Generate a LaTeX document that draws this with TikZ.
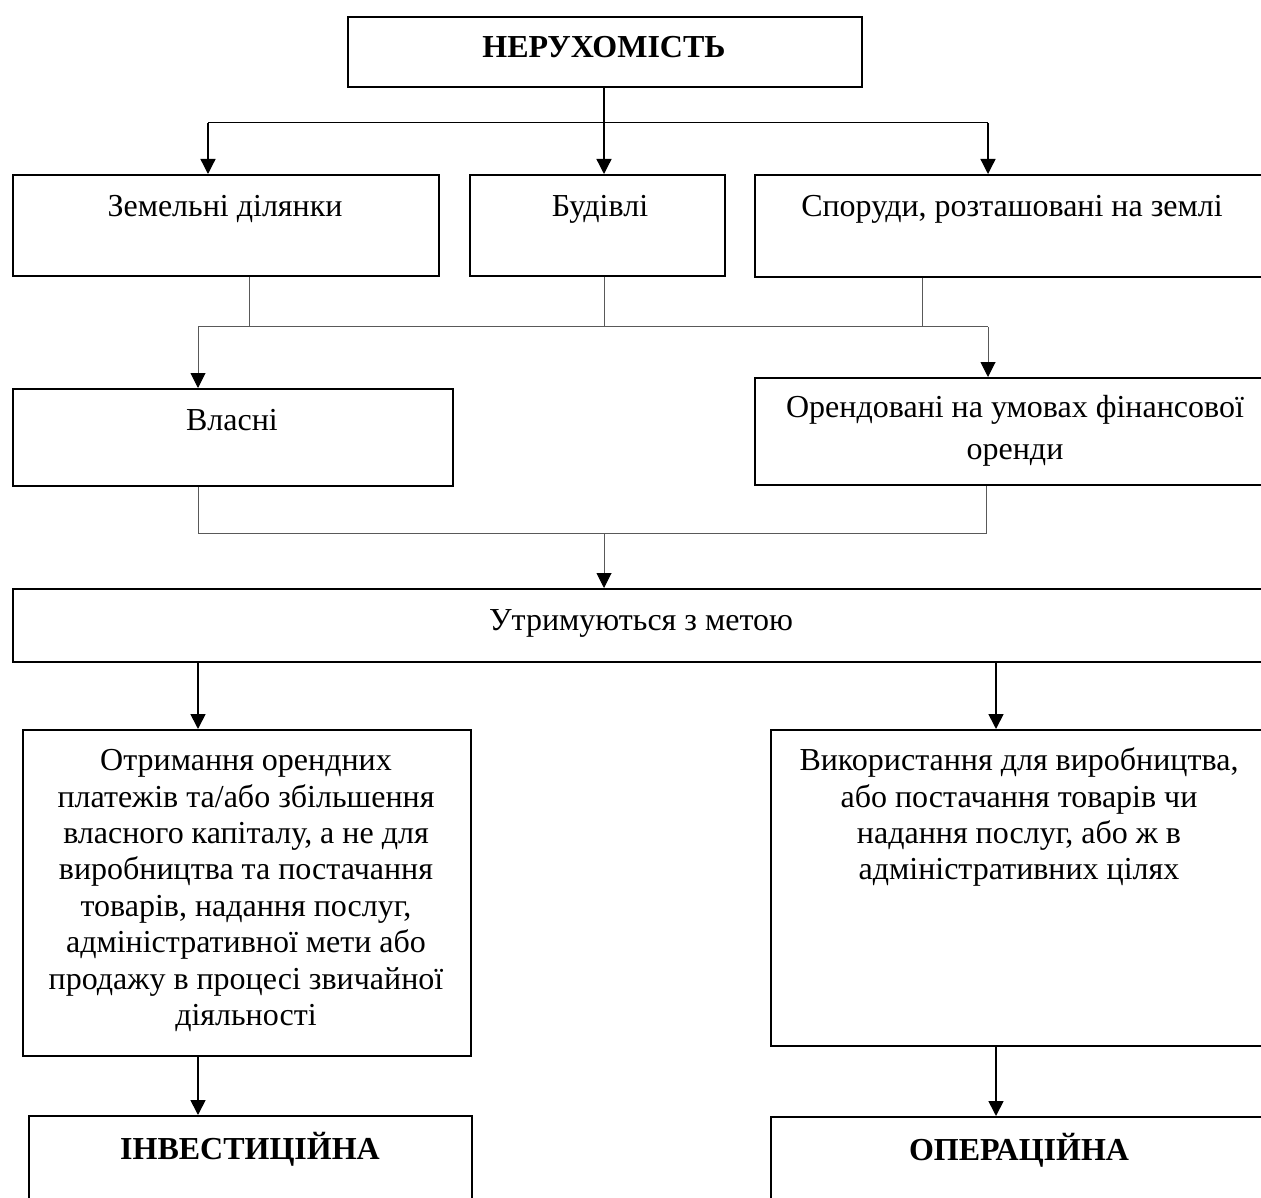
\documentclass[tikz,border=0pt]{standalone}
\usepackage{fontspec}
\setmainfont{Liberation Serif}
\usetikzlibrary{arrows.meta}
\begin{document}
\begin{tikzpicture}[x=1pt,y=-1pt,
  box/.style={draw=black,line width=1.6pt,inner sep=0pt,anchor=north west,rectangle},
  lbl/.style={anchor=north,align=center,inner sep=0pt,font=\fontsize{32}{36.4}\selectfont},
  arr/.style={-{Triangle[width=15pt,length=15pt,color=black]}},
  conntop/.style={draw=black,line width=1.3pt},
  connthin/.style={draw=black,line width=1pt},
  conngray/.style={draw=black!65,line width=1pt},
  connheavy/.style={draw=black,line width=1.7pt}]
\clip (0,0) rectangle (1261,1198);
% boxes
\node[box,minimum width=514pt,minimum height=70pt] (top) at (347,16) {};
\node[box,minimum width=426pt,minimum height=101pt] (land) at (12,174) {};
\node[box,minimum width=255pt,minimum height=101pt] (bud) at (469,174) {};
\node[box,minimum width=516pt,minimum height=102pt] (spor) at (754,174) {};
\node[box,minimum width=440pt,minimum height=97pt] (own) at (12,388) {};
\node[box,minimum width=516pt,minimum height=107pt] (fin) at (754,377) {};
\node[box,minimum width=1258pt,minimum height=73pt] (hold) at (12,588) {};
\node[box,minimum width=448pt,minimum height=326pt] (inv) at (22,729) {};
\node[box,minimum width=498pt,minimum height=316pt] (oper) at (770,729) {};
\node[box,minimum width=443pt,minimum height=130pt] (invb) at (28,1115) {};
\node[box,minimum width=498pt,minimum height=130pt] (operb) at (770,1116) {};
% labels
\node[lbl,font=\fontsize{32}{36}\selectfont\bfseries] (topT) at (604,32) {\strut НЕРУХОМІСТЬ};
\node[lbl] (landT) at (225,191) {\strut Земельні ділянки};
\node[lbl] (budT) at (600,191) {\strut Будівлі};
\node[lbl] (sporT) at (1012,191) {\strut Споруди, розташовані на землі};
\node[lbl] (ownT) at (232,405) {\strut Власні};
\node[lbl,font=\fontsize{32}{42}\selectfont] (finT) at (1015,388) {\strut Орендовані на умовах фінансової\\оренди};
\node[lbl] (holdT) at (641,605) {\strut Утримуються з метою};
\node[lbl] (invT) at (246,745) {\strut Отримання орендних\\платежів та/або збільшення\\власного капіталу, а не для\\виробництва та постачання\\товарів, надання послуг,\\адміністративної мети або\\продажу в процесі звичайної\\діяльності};
\node[lbl] (operT) at (1019,745) {\strut Використання для виробництва,\\або постачання товарів чи\\надання послуг, або ж в\\адміністративних цілях};
\node[lbl,font=\fontsize{32}{36}\selectfont\bfseries] (invbT) at (250,1132) {\strut ІНВЕСТИЦІЙНА};
\node[lbl,font=\fontsize{32}{36}\selectfont\bfseries] (operbT) at (1019,1133) {\strut ОПЕРАЦІЙНА};
% junction coordinates
\coordinate (h1L) at (208,123);
\coordinate (h1R) at (988,123);
\coordinate (j1) at (249,327);
\coordinate (j2) at (604,327);
\coordinate (j3) at (922,327);
\coordinate (h2L) at (198,327);
\coordinate (h2R) at (988,327);
\coordinate (k1) at (198,533);
\coordinate (k2) at (986,533);
\coordinate (k3) at (604,533);
\coordinate (p1) at (198,661);
\coordinate (p2) at (996,661);
\coordinate (q1) at (198,1055);
\coordinate (q2) at (996,1045);
% top connectors
\draw[conntop,arr] (top.south -| j2) -- (j2 |- bud.north);
\draw[connthin] (h1L) -- (h1R);
\draw[conntop,arr] (h1L) -- (h1L |- land.north);
\draw[conntop,arr] (h1R) -- (h1R |- spor.north);
% middle connectors
\draw[conngray] (j1 |- land.south) -- (j1);
\draw[conngray] (j2 |- bud.south) -- (j2);
\draw[conngray] (j3 |- spor.south) -- (j3);
\draw[conngray] (h2L) -- (h2R);
\draw[conngray,arr] (h2L) -- (h2L |- own.north);
\draw[conngray,arr] (h2R) -- (h2R |- fin.north);
% lower connectors
\draw[conngray] (k1 |- own.south) -- (k1) -- (k2) -- (k2 |- fin.south);
\draw[conngray,arr] (k3) -- (k3 |- hold.north);
% bottom connectors
\draw[connheavy,arr] (p1) -- (p1 |- inv.north);
\draw[connheavy,arr] (p2) -- (p2 |- oper.north);
\draw[connheavy,arr] (q1) -- (q1 |- invb.north);
\draw[connheavy,arr] (q2) -- (q2 |- operb.north);
\end{tikzpicture}
\end{document}
